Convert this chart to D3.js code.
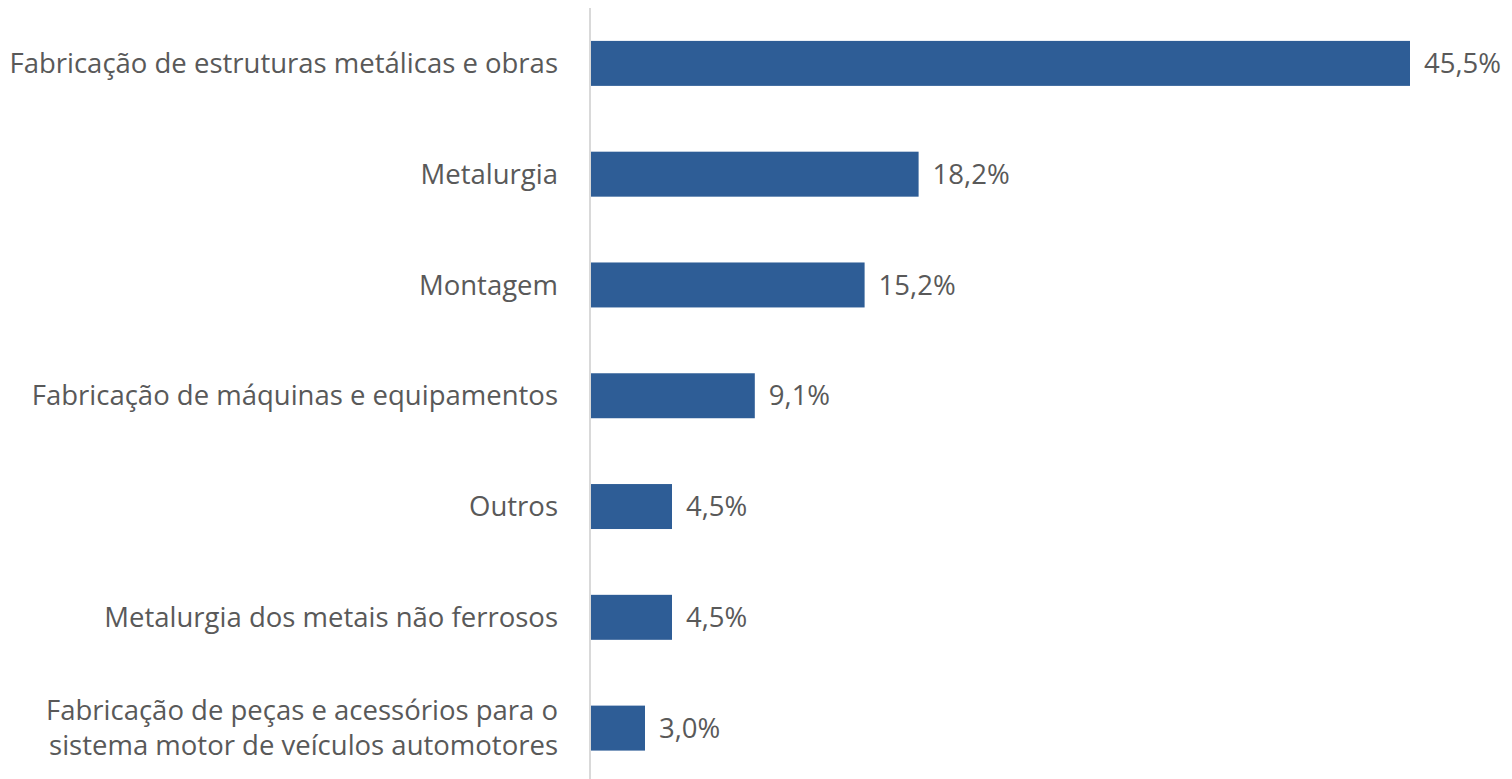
<!DOCTYPE html>
<html lang="pt">
<head>
<meta charset="UTF-8">
<title>Setores</title>
<script src="https://d3js.org/d3.v7.min.js"></script>
<style>
	body { margin: 0; background: #fff; }
	svg text { font-family: "Open Sans", "Noto Sans", sans-serif; fill: #595959; }
</style>
</head>
<body>
<svg id="chart" width="1512" height="779"></svg>
<script>
var categories = [
	["Fabricação de estruturas metálicas e obras"],
	["Metalurgia"],
	["Montagem"],
	["Fabricação de máquinas e equipamentos"],
	["Outros"],
	["Metalurgia dos metais não ferrosos"],
	["Fabricação de peças e acessórios para o", "sistema motor de veículos automotores"]
];
var values = [45.5, 18.2, 15.2, 9.1, 4.5, 4.5, 3.0];
var valueLabels = ["45,5%", "18,2%", "15,2%", "9,1%", "4,5%", "4,5%", "3,0%"];

var svg = d3.select("#chart");
var rows = values.map(function(v, i) { return { i: i, v: v, name: categories[i], label: valueLabels[i] }; });

var x = d3.scaleLinear().domain([0, 45.5]).range([591, 1410]);
var y = d3.scaleBand().domain(d3.range(values.length)).range([8, 783.5])
	.paddingInner(0.594).paddingOuter(0.297);

var fontSize = 27.5;
var lineGap = 35;

// axis line
svg.append("line")
	.attr("x1", 590).attr("x2", 590)
	.attr("y1", 8).attr("y2", 779)
	.attr("stroke", "#d9d9d9").attr("stroke-width", 2);

svg.selectAll("rect.bar")
	.data(rows)
	.enter()
	.append("rect")
	.attr("class", "bar")
	.attr("x", x(0))
	.attr("y", function(d) { return y(d.i); })
	.attr("width", function(d) { return x(d.v) - x(0); })
	.attr("height", y.bandwidth())
	.attr("fill", "#2e5d96");

svg.selectAll("text.val")
	.data(rows)
	.enter()
	.append("text")
	.attr("class", "val")
	.attr("x", function(d) { return x(d.v) + 14; })
	.attr("y", function(d) { return y(d.i) + y.bandwidth() / 2; })
	.attr("dy", "0.35em")
	.attr("font-size", fontSize)
	.text(function(d) { return d.label; });

// category labels, one text element per line
var catLines = [];
rows.forEach(function(d) {
	var n = d.name.length;
	d.name.forEach(function(line, k) {
		catLines.push({ i: d.i, text: line, off: (k - (n - 1) / 2) * lineGap });
	});
});

svg.selectAll("text.cat")
	.data(catLines)
	.enter()
	.append("text")
	.attr("class", "cat")
	.attr("text-anchor", "end")
	.attr("font-size", fontSize)
	.attr("x", 558)
	.attr("y", function(d) { return y(d.i) + y.bandwidth() / 2 + d.off; })
	.attr("dy", "0.35em")
	.text(function(d) { return d.text; });
</script>
</body>
</html>
